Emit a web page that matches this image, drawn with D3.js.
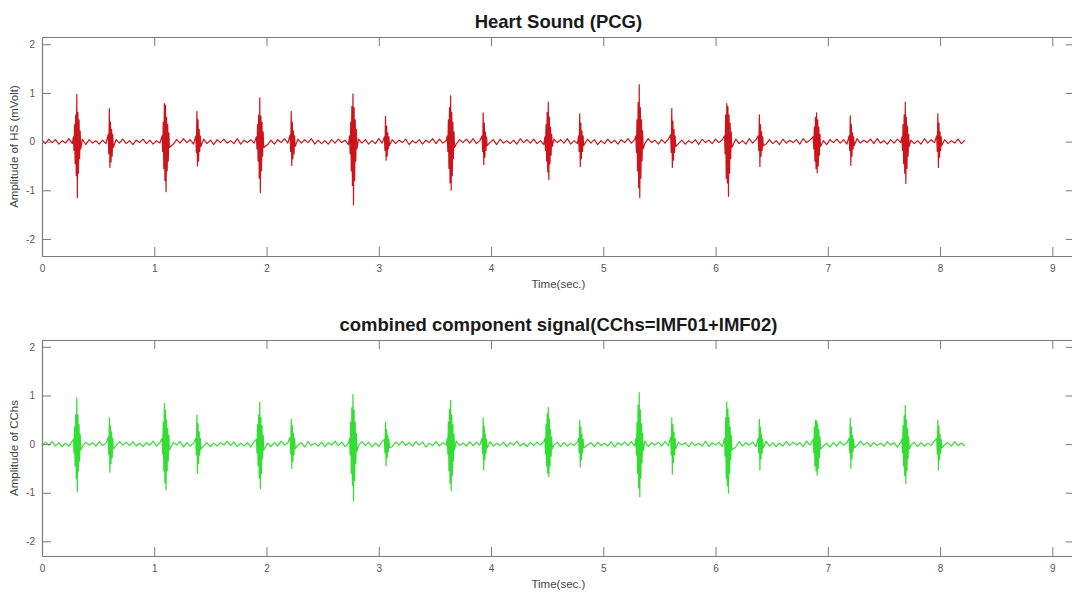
<!DOCTYPE html>
<html>
<head>
<meta charset="utf-8">
<script src="https://cdn.jsdelivr.net/npm/d3@7"></script>
<style>
  body { margin: 0; background: #fff; }
  text { font-family: "Liberation Sans", Arial, sans-serif; }
</style>
</head>
<body>
<svg id="fig" width="1072" height="593"></svg>
<script>
// ---- data ----
const xTicks = [0, 1, 2, 3, 4, 5, 6, 7, 8, 9];
const yTicks = [-2, -1, 0, 1, 2];
const xLimits = [0, 9.2];

const burstStep = 0.005;    // seconds between samples inside a burst
const baselineStep = 0.03;  // seconds between baseline samples

// heart sound (PCG): baseline noise, hundredths of mV
const hsBaseline = [
  3,-4,5,-2,4,-5,2,-3,6,-4,3,-2,5,-6,4,-3,2,-5,3,-4,6,-2,4,-3,5,
  -4,2,-6,3,-2,5,-4,3,-5,2,-3,7,-4,2,-5,4,-3,6,-2,4,-5,3,-2,5,-4,
  3,-6,4,-2,5,-3,2,-4,6,-5,3,-2,4,-3,5,-4,2,-6,3,-5,4,-2,6,-3,2,
  -4,5,-3,4,-2,6,-5,3,-4,2,-5,4,-3,5,-2,3,-6,4,-2,5,-3,4,-5,2,-4,
  6,-3,2,-5,4,-4,3,-2,5,-6,2,-3,4,-5,3,-2,6,-4,5,-3,2,-4,3,-5,4,
  -2,5,-3,6,-4,2,-5,3,-2,4,-6,5,-3,2,-4,3,-5,6,-2,4,-3,5,-4,2,-6,
  3,-4,5,-2,4,-3,6,-5,2,-4,3,-2,5,-3,4,-6,2,-4,5,-3,3,-5,4,-2,6,
  -3,4,-5,2,-4,6,-2,3,-5,4,-3,5,-2,6,-4,3,-5,2,-3,4,-6,5,-2,3,-4,
  5,-2,4,-6,3,-3,5,-4,2,-5,6,-3,4,-2,3,-5,4,-4,2,-6,5,-3,3,-2,4,
  -5,6,-2,3,-4,5,-3,2,-6,4,-2,5,-3,4,-5,2,-4,6,-3,3,-2,5,-4,6,-3,
  2,-5,4,-3,5,-2,4,-6,3,-4,2,-5,6,-3,4,-2,3,-5,4,-4,2,-3,5,-4,3
];

// heart sound bursts: [start time (s), successive extremes (mV)]
const hsBursts = [
  [0.28, [0.10,-0.18,0.35,-0.45,0.55,-0.70,0.97,-1.15,0.60,-0.65,0.45,-0.35,0.22,-0.15]],
  [0.59, [0.15,-0.25,0.68,-0.53,0.40,-0.42,0.25,-0.30,0.15,-0.12]],
  [1.07, [0.12,-0.20,0.40,-0.55,0.78,-0.80,0.75,-1.03,0.50,-0.60,0.35,-0.40,0.18,-0.12]],
  [1.37, [0.12,-0.22,0.62,-0.50,0.45,-0.40,0.25,-0.20,0.12,-0.10]],
  [1.91, [0.10,-0.15,0.35,-0.40,0.55,-0.75,0.90,-1.05,0.52,-0.60,0.40,-0.30,0.20,-0.12]],
  [2.21, [0.14,-0.20,0.62,-0.49,0.40,-0.35,0.22,-0.25,0.12,-0.10]],
  [2.74, [0.12,-0.25,0.40,-0.60,0.72,-0.90,0.98,-1.30,0.70,-0.80,0.45,-0.40,0.25,-0.15]],
  [3.05, [0.10,-0.18,0.52,-0.38,0.32,-0.30,0.18,-0.15,0.10,-0.08]],
  [3.61, [0.12,-0.20,0.45,-0.55,0.70,-0.85,0.94,-1.00,0.60,-0.70,0.40,-0.35,0.20,-0.12]],
  [3.92, [0.12,-0.20,0.59,-0.47,0.38,-0.32,0.20,-0.18,0.10,-0.08]],
  [4.48, [0.10,-0.18,0.35,-0.40,0.60,-0.62,0.81,-0.78,0.50,-0.45,0.30,-0.28,0.15,-0.10]],
  [4.78, [0.12,-0.20,0.57,-0.51,0.38,-0.35,0.22,-0.20,0.12,-0.08]],
  [5.29, [0.12,-0.22,0.45,-0.60,0.80,-0.95,1.17,-1.15,0.70,-0.75,0.45,-0.40,0.22,-0.15]],
  [5.60, [0.14,-0.22,0.68,-0.53,0.42,-0.38,0.25,-0.22,0.12,-0.10]],
  [6.08, [0.12,-0.25,0.55,-0.75,0.78,-0.85,0.72,-1.12,0.55,-0.65,0.38,-0.35,0.20,-0.12]],
  [6.38, [0.12,-0.18,0.55,-0.51,0.35,-0.30,0.20,-0.18,0.10,-0.08]],
  [6.87, [0.10,-0.15,0.30,-0.40,0.50,-0.55,0.59,-0.64,0.45,-0.50,0.30,-0.28,0.15,-0.10]],
  [7.19, [0.12,-0.18,0.53,-0.49,0.35,-0.30,0.18,-0.15,0.10,-0.08]],
  [7.66, [0.10,-0.18,0.35,-0.45,0.55,-0.65,0.81,-0.86,0.50,-0.55,0.32,-0.30,0.15,-0.10]],
  [7.97, [0.12,-0.20,0.57,-0.53,0.38,-0.32,0.20,-0.18,0.10,-0.08]]
];

// combined component signal (IMF01+IMF02): baseline noise, hundredths
const cchsBaseline = [
  -3,4,-2,5,-4,3,-5,2,-4,6,-3,2,-5,4,-2,3,-4,5,-3,2,-6,4,-3,5,-2,
  4,-3,5,-4,2,-5,3,-2,6,-4,3,-5,2,-3,4,-2,5,-6,3,-4,2,-3,5,-4,3,
  -5,2,-4,3,-2,6,-3,4,-5,2,-4,3,-6,5,-2,4,-3,2,-5,3,-4,6,-2,3,-5,
  4,-2,3,-6,5,-3,2,-4,4,-5,3,-2,6,-3,4,-5,2,-4,3,-2,5,-3,4,-6,2,
  -4,5,-3,2,-5,4,-2,6,-3,3,-4,5,-2,4,-6,2,-3,5,-4,3,-2,4,-5,6,-3,
  2,-4,5,-3,4,-2,3,-6,5,-4,2,-3,4,-5,3,-2,6,-4,2,-5,3,-3,4,-2,5,
  -6,3,-2,4,-5,3,-4,2,-3,5,-4,6,-2,3,-5,4,-3,2,-4,5,-6,3,-2,4,-3,
  5,-4,2,-3,6,-5,3,-2,4,-4,5,-3,2,-6,4,-2,3,-5,4,-3,2,-4,6,-5,3,
  -2,4,-5,3,-3,2,-6,5,-4,3,-2,4,-5,2,-3,6,-4,3,-5,2,-4,5,-3,4,-2,
  3,-5,6,-2,4,-3,5,-4,2,-6,3,-4,5,-2,3,-5,4,-3,6,-2,4,-5,3,-3,2,
  -4,5,-2,3,-6,4,-3,5,-2,4,-5,3,-4,2,-3,6,-5,4,-2,3,-4,5,-3,2,-4
];

const cchsBursts = [
  [0.28, [0.10,-0.18,0.35,-0.45,0.60,-0.70,0.95,-0.98,0.60,-0.55,0.40,-0.35,0.20,-0.12]],
  [0.59, [0.14,-0.22,0.54,-0.58,0.38,-0.40,0.25,-0.28,0.12,-0.10]],
  [1.07, [0.12,-0.20,0.45,-0.55,0.84,-0.80,0.70,-0.94,0.50,-0.55,0.32,-0.35,0.18,-0.12]],
  [1.37, [0.12,-0.22,0.60,-0.60,0.42,-0.40,0.25,-0.22,0.12,-0.10]],
  [1.91, [0.10,-0.18,0.40,-0.45,0.60,-0.70,0.86,-0.92,0.55,-0.60,0.38,-0.30,0.18,-0.12]],
  [2.21, [0.14,-0.20,0.51,-0.50,0.38,-0.35,0.22,-0.22,0.12,-0.10]],
  [2.74, [0.12,-0.22,0.45,-0.60,0.75,-0.85,1.02,-1.17,0.70,-0.75,0.45,-0.40,0.22,-0.15]],
  [3.05, [0.10,-0.18,0.45,-0.45,0.30,-0.28,0.18,-0.15,0.10,-0.08]],
  [3.61, [0.12,-0.20,0.45,-0.55,0.72,-0.80,0.90,-0.96,0.60,-0.65,0.40,-0.35,0.20,-0.12]],
  [3.92, [0.12,-0.20,0.54,-0.53,0.36,-0.32,0.20,-0.18,0.10,-0.08]],
  [4.48, [0.12,-0.20,0.40,-0.45,0.62,-0.60,0.75,-0.67,0.52,-0.45,0.30,-0.25,0.15,-0.10]],
  [4.78, [0.12,-0.18,0.49,-0.47,0.35,-0.32,0.20,-0.18,0.10,-0.08]],
  [5.29, [0.12,-0.22,0.45,-0.60,0.80,-0.90,1.06,-1.08,0.70,-0.70,0.42,-0.38,0.22,-0.14]],
  [5.60, [0.14,-0.22,0.54,-0.62,0.40,-0.38,0.24,-0.22,0.12,-0.10]],
  [6.08, [0.12,-0.25,0.55,-0.70,0.87,-0.85,0.72,-1.01,0.55,-0.60,0.35,-0.32,0.18,-0.12]],
  [6.38, [0.12,-0.18,0.51,-0.53,0.35,-0.30,0.20,-0.18,0.10,-0.08]],
  [6.87, [0.10,-0.18,0.35,-0.45,0.49,-0.55,0.48,-0.64,0.42,-0.50,0.30,-0.28,0.15,-0.10]],
  [7.19, [0.12,-0.18,0.53,-0.50,0.35,-0.30,0.18,-0.15,0.10,-0.08]],
  [7.66, [0.10,-0.18,0.38,-0.45,0.58,-0.65,0.79,-0.81,0.50,-0.55,0.32,-0.30,0.15,-0.10]],
  [7.97, [0.12,-0.20,0.49,-0.53,0.36,-0.32,0.20,-0.18,0.10,-0.08]]
];

// merge baseline noise and bursts into one time-ordered trace
function buildTrace(baseline, bursts) {
  const pts = [];
  bursts.forEach(([t0, vals]) => {
    vals.forEach((v, i) => pts.push([t0 + i * burstStep, v]));
  });
  baseline.forEach((v, i) => {
    const t = i * baselineStep;
    const inBurst = bursts.some(([t0, vals]) => t >= t0 && t <= t0 + vals.length * burstStep);
    if (!inBurst) pts.push([t, v / 100]);
  });
  return pts.sort((a, b) => a[0] - b[0]);
}

const svg = d3.select('#fig');
const x = d3.scaleLinear().domain(xLimits).range([42, 1074.8]);

function panel(cfg) {
  const y = d3.scaleLinear().domain(cfg.yLimits).range(cfg.yRange);
  const g = svg.append('g');
  const [yBottom, yTop] = cfg.yRange;

  const styleAxis = sel => {
    sel.attr('color', '#7a7a7a');
    sel.selectAll('path.domain').attr('stroke-width', 1.2);
    sel.selectAll('text').attr('fill', '#555').style('font-size', '10px');
  };

  // trace
  g.append('path')
    .datum(buildTrace(cfg.baseline, cfg.bursts))
    .attr('fill', 'none')
    .attr('stroke', cfg.color)
    .attr('stroke-width', 1.2)
    .attr('stroke-linejoin', 'round')
    .attr('d', d3.line().x(d => x(d[0])).y(d => y(d[1])));

  // box with inward ticks
  g.append('g')
    .attr('transform', `translate(0,${yBottom})`)
    .call(d3.axisBottom(x).tickValues(xTicks).tickFormat(d3.format('d'))
      .tickSizeInner(-9).tickSizeOuter(0).tickPadding(9))
    .call(styleAxis);
  g.append('g')
    .attr('transform', `translate(0,${yTop})`)
    .call(d3.axisTop(x).tickValues(xTicks)
      .tickSizeInner(-9).tickSizeOuter(0))
    .call(styleAxis)
    .call(sel => sel.selectAll('text').remove());
  g.append('g')
    .attr('transform', `translate(${x(xLimits[0])},0)`)
    .call(d3.axisLeft(y).tickValues(yTicks).tickFormat(d3.format('d'))
      .tickSizeInner(-9).tickSizeOuter(0).tickPadding(7))
    .call(styleAxis);
  g.append('g')
    .attr('transform', `translate(${x(xLimits[1])},0)`)
    .call(d3.axisRight(y).tickValues(yTicks)
      .tickSizeInner(-9).tickSizeOuter(0))
    .call(styleAxis)
    .call(sel => sel.selectAll('text').remove());
  g.selectAll('.tick text').filter(d => d < 0).text(d => '-' + Math.abs(d));

  const xMid = (x.range()[0] + x.range()[1]) / 2;
  // title
  g.append('text')
    .attr('x', xMid)
    .attr('y', yTop - 9)
    .attr('text-anchor', 'middle')
    .style('font-size', '18.5px')
    .style('font-weight', 'bold')
    .attr('fill', '#1a1a1a')
    .text(cfg.title);
  // x label
  g.append('text')
    .attr('x', xMid)
    .attr('y', yBottom + 32)
    .attr('text-anchor', 'middle')
    .style('font-size', '11.5px')
    .attr('fill', '#444')
    .text(cfg.xLabel);
  // y label
  g.append('text')
    .attr('transform', `translate(18,${(yTop + yBottom) / 2}) rotate(-90)`)
    .attr('text-anchor', 'middle')
    .style('font-size', '11.5px')
    .attr('fill', '#444')
    .text(cfg.yLabel);
}

panel({
  title: 'Heart Sound (PCG)',
  xLabel: 'Time(sec.)',
  yLabel: 'Amplitude of HS (mVolt)',
  yLimits: [-2.35, 2.15],
  yRange: [256, 37],
  baseline: hsBaseline,
  bursts: hsBursts,
  color: '#cc141c'
});

panel({
  title: 'combined component signal(CChs=IMF01+IMF02)',
  xLabel: 'Time(sec.)',
  yLabel: 'Amplitude of CChs',
  yLimits: [-2.3, 2.14],
  yRange: [556, 340],
  baseline: cchsBaseline,
  bursts: cchsBursts,
  color: '#33dd33'
});
</script>
</body>
</html>
